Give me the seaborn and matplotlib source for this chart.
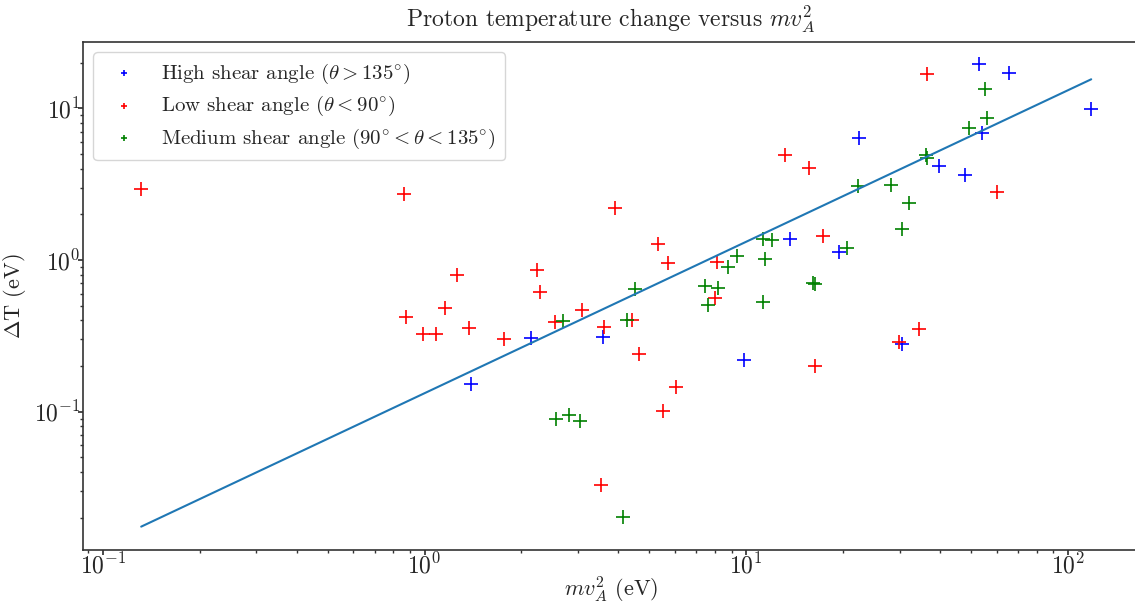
import numpy as np
import pandas as pd
import matplotlib
matplotlib.use("Agg")
import matplotlib.pyplot as plt
import seaborn as sns

# ---- data ----
high_x = [1.396, 2.145, 3.592, 9.85, 13.69, 19.45, 22.44, 39.8, 47.9, 52.97, 54.1, 65.6, 118.1, 30.5]
high_y = [0.1523, 0.306, 0.3108, 0.2192, 1.375, 1.129, 6.37, 4.165, 3.634, 19.6, 6.874, 17.09, 9.89, 0.2794]

low_x = [0.1315, 0.864, 1.263, 1.159, 0.8766, 0.990, 1.087, 1.376, 1.767, 2.239, 2.288, 2.547,
         3.09, 3.617, 3.913, 4.418, 4.647, 5.322, 5.716, 5.516, 6.055, 3.54, 8.12, 8.007,
         13.21, 15.69, 17.34, 16.38, 29.87, 34.47, 36.50, 60.26]
low_y = [2.94, 2.723, 0.796, 0.4828, 0.421, 0.3253, 0.3253, 0.3562, 0.3014, 0.859, 0.6153, 0.3903,
         0.468, 0.3617, 2.202, 0.4022, 0.240, 1.275, 0.955, 0.1011, 0.1455, 0.03287, 0.970, 0.5617,
         4.922, 4.042, 1.439, 0.2001, 0.288, 0.3509, 16.83, 2.808]

med_x = [2.697, 4.515, 4.264, 2.565, 2.815, 3.046, 4.142, 7.451, 8.179, 7.614, 8.786, 9.37,
         11.29, 12.04, 11.45, 11.29, 16.14, 16.38, 20.59, 22.27, 28.2, 32.09, 30.52, 36.24,
         36.50, 49.3, 56.09, 55.29]
med_y = [0.396, 0.644, 0.4022, 0.0895, 0.0951, 0.0868, 0.02022, 0.674, 0.654, 0.505, 0.899, 1.063,
         1.375, 1.355, 1.015, 0.5287, 0.7055, 0.695, 1.2, 3.074, 3.122, 2.375, 1.601, 4.922,
         4.703, 7.418, 8.633, 13.41]

fit_x = [0.1315, 118.1]
fit_y = [0.01746, 15.53]

labels = [r"High shear angle ($\theta > 135^{\circ}$)",
          r"Low shear angle ($\theta < 90^{\circ}$)",
          r"Medium shear angle ($90^{\circ} < \theta < 135^{\circ}$)"]
colors = ["blue", "red", "green"]

# ---- style ----
sns.set_theme(style="ticks")
plt.rcParams["font.family"] = "serif"
plt.rcParams["font.serif"] = ["cmr10"]
plt.rcParams["mathtext.fontset"] = "cm"
plt.rcParams["axes.formatter.use_mathtext"] = True
plt.rcParams["axes.unicode_minus"] = False

fig = plt.figure(figsize=(11.35, 6.03), dpi=100)
ax = fig.add_axes([83 / 1135, 1 - 550 / 603, (1.003 * 1135 - 83) / 1135, (550 - 42) / 603])

groups = [(high_x, high_y), (low_x, low_y), (med_x, med_y)]
for (gx, gy), lab, col in zip(groups, labels, colors):
    df = pd.DataFrame({"x": gx, "y": gy})
    sns.scatterplot(data=df, x="x", y="y", marker="+", s=100, color=col,
                    linewidth=1.2, label=lab, ax=ax)

fit_df = pd.DataFrame({"x": fit_x, "y": fit_y})
sns.lineplot(data=fit_df, x="x", y="y", color="#1f77b4", linewidth=1.5, ax=ax)

ax.set_xscale("log")
ax.set_yscale("log")
ax.set_xlim(10 ** -1.062, 10 ** 2.219)
ax.set_ylim(10 ** -1.912, 10 ** 1.437)

for sp in ax.spines.values():
    sp.set_color("#333333")
    sp.set_linewidth(1.2)
ax.tick_params(axis="both", which="major", labelsize=17, length=3.5, color="#333333")
ax.tick_params(axis="y", which="major", pad=-1.5)
ax.tick_params(axis="x", which="major", pad=-1)
ax.tick_params(axis="both", which="minor", length=2.2, color="#333333")

ax.set_title(r"Proton temperature change versus $mv_A^2$", fontsize=17, pad=11)
ax.set_xlabel(r"$mv_A^2$ (eV)", fontsize=16, labelpad=-3)
ax.set_ylabel(r"$\Delta$T (eV)", fontsize=16, labelpad=4)

leg = ax.legend(loc="upper left", fontsize=15, markerscale=0.45, handletextpad=0.8,
                borderpad=0.45, labelspacing=0.4, framealpha=0.8, borderaxespad=0.5)

fig.savefig("out.png", dpi=100)
